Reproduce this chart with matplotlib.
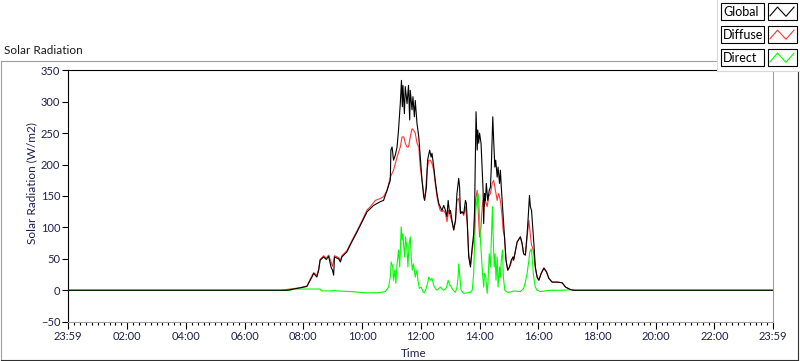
import matplotlib
matplotlib.use("Agg")
import matplotlib.pyplot as plt
from matplotlib.patches import Rectangle
from matplotlib.lines import Line2D
import numpy as np

# ── Style ────────────────────────────────────────────────────────────────────
plt.rcParams.update({
    "font.family": ["Lato", "DejaVu Sans"],
    "font.size": 8,
})

TXT = "#1f1f4d"
GRAY = "#a0a0a0"
C_GLOBAL = "#000000"
C_DIFFUSE = "#ff3535"
C_DIRECT = "#00ff00"

# ── Data (time in hours of day, radiation in W/m2) ───────────────────────────
GLOBAL_T = [
    -0.02, 7.21, 7.45, 7.89, 8.12, 8.29, 8.35, 8.46, 8.52, 8.57, 8.69, 8.78,
    8.86, 8.94, 8.99, 9.03, 9.06, 9.20, 9.26, 9.31, 9.48, 9.65, 9.83, 10.00,
    10.17, 10.39, 10.62, 10.73, 10.85, 10.96, 10.98, 11.02, 11.07, 11.13, 11.19,
    11.24, 11.30, 11.34, 11.37, 11.39, 11.44, 11.47, 11.53, 11.58, 11.62, 11.64,
    11.70, 11.73, 11.78, 11.81, 11.87, 11.93, 11.98, 12.04, 12.10, 12.13, 12.19,
    12.23, 12.30, 12.35, 12.38, 12.44, 12.49, 12.55, 12.61, 12.66, 12.72, 12.78,
    12.84, 12.89, 12.93, 12.98, 13.01, 13.06, 13.12, 13.18, 13.23, 13.29, 13.32,
    13.35, 13.40, 13.46, 13.52, 13.55, 13.58, 13.63, 13.69, 13.71, 13.75, 13.80,
    13.83, 13.86, 13.88, 13.92, 13.94, 13.97, 14.00, 14.05, 14.09, 14.12, 14.14,
    14.17, 14.20, 14.23, 14.28, 14.33, 14.37, 14.40, 14.45, 14.48, 14.52, 14.55,
    14.60, 14.63, 14.68, 14.71, 14.74, 14.79, 14.85, 14.90, 14.96, 15.02, 15.08,
    15.14, 15.16, 15.28, 15.39, 15.45, 15.50, 15.56, 15.62, 15.65, 15.70, 15.73,
    15.77, 15.81, 15.85, 15.90, 15.96, 16.02, 16.10, 16.19, 16.28, 16.36, 16.47,
    16.64, 16.81, 16.93, 17.10, 17.21, 23.98,
]
GLOBAL_V = [
    0, 0, 0, 4, 6, 21, 27, 21, 32, 48, 53, 49,
    54, 37, 32, 24, 53, 50, 45, 53, 61, 77, 93, 109,
    125, 135, 141, 143, 159, 175, 223, 228, 207, 215, 228,
    255, 297, 334, 292, 326, 281, 324, 297, 326, 271, 318,
    287, 308, 276, 302, 265, 244, 212, 175, 148, 143, 164,
    207, 223, 212, 218, 196, 175, 154, 138, 133, 127, 135,
    127, 117, 143, 122, 127, 111, 96, 111, 154, 178, 164,
    122, 125, 122, 143, 138, 111, 53, 37, 48, 69, 90,
    127, 228, 284, 223, 255, 234, 250, 234, 191, 159, 106,
    154, 143, 170, 143, 159, 164, 196, 276, 239, 196, 207,
    180, 196, 170, 191, 164, 127, 85, 48, 32, 37, 48,
    53, 48, 77, 85, 74, 58, 56, 90, 111, 151, 133,
    127, 101, 74, 37, 21, 16, 27, 35, 29, 19, 13,
    13, 12, 5, 1, 0, 0,
]

DIFFUSE_T = [
    -0.02, 7.21, 7.89, 8.12, 8.29, 8.35, 8.46, 8.52, 8.57, 8.69, 8.78, 8.86,
    8.94, 8.99, 9.06, 9.20, 9.26, 9.31, 9.48, 9.65, 9.83, 10.00, 10.17, 10.28,
    10.45, 10.62, 10.73, 10.85, 10.96, 11.07, 11.19, 11.30, 11.36, 11.42, 11.47,
    11.53, 11.58, 11.64, 11.70, 11.75, 11.81, 11.87, 11.93, 11.98, 12.04, 12.10,
    12.15, 12.21, 12.27, 12.32, 12.38, 12.44, 12.49, 12.55, 12.61, 12.66, 12.72,
    12.78, 12.84, 12.89, 12.95, 13.01, 13.06, 13.12, 13.18, 13.23, 13.29, 13.35,
    13.40, 13.46, 13.52, 13.58, 13.63, 13.69, 13.75, 13.80, 13.86, 13.92, 13.97,
    14.00, 14.05, 14.09, 14.12, 14.16, 14.20, 14.26, 14.31, 14.37, 14.43, 14.48,
    14.54, 14.60, 14.65, 14.71, 14.77, 14.80, 14.85, 14.90, 14.96, 15.05, 15.14,
    15.16, 15.28, 15.39, 15.45, 15.50, 15.56, 15.62, 15.68, 15.73, 15.77, 15.81,
    15.85, 15.90, 15.96, 16.02, 16.10, 16.19, 16.28, 16.36, 16.47, 16.64, 16.81,
    16.93, 17.10, 17.21, 23.98,
]
DIFFUSE_V = [
    0, 0, 4, 7, 23, 28, 24, 33, 49, 55, 51, 56,
    45, 38, 55, 52, 47, 55, 63, 79, 95, 111, 128, 133,
    143, 146, 149, 159, 180, 191, 212, 228, 244, 244, 234,
    228, 228, 244, 257, 255, 250, 234, 228, 196, 175, 154,
    149, 191, 207, 207, 202, 191, 170, 149, 135, 127, 125,
    127, 122, 109, 127, 117, 109, 96, 111, 143, 146, 122,
    125, 119, 133, 106, 58, 40, 64, 80, 143, 159, 111,
    85, 101, 133, 143, 133, 143, 133, 149, 154, 170, 175,
    159, 143, 154, 143, 117, 96, 85, 48, 32, 40, 53,
    48, 77, 85, 74, 58, 56, 85, 111, 88, 72, 67,
    56, 35, 21, 16, 27, 36, 30, 19, 13, 13, 12,
    5, 1, 0, 0,
]

DIRECT_T = [
    -0.02, 7.59, 7.62, 8.57, 8.61, 9.02, 9.05, 9.12, 9.60, 10.11, 10.55, 10.79,
    10.90, 10.96, 10.99, 11.04, 11.07, 11.11, 11.15, 11.19, 11.24, 11.28, 11.33,
    11.36, 11.39, 11.42, 11.45, 11.48, 11.53, 11.56, 11.60, 11.64, 11.68, 11.71,
    11.75, 11.81, 11.87, 11.90, 11.95, 12.01, 12.08, 12.12, 12.16, 12.23, 12.27,
    12.32, 12.38, 12.44, 12.49, 12.55, 12.66, 12.78, 12.87, 12.93, 12.98, 13.01,
    13.06, 13.12, 13.18, 13.23, 13.27, 13.29, 13.32, 13.37, 13.46, 13.58, 13.69,
    13.75, 13.80, 13.83, 13.87, 13.92, 13.95, 13.98, 14.03, 14.06, 14.10, 14.14,
    14.17, 14.21, 14.26, 14.29, 14.33, 14.37, 14.40, 14.44, 14.46, 14.50, 14.53,
    14.56, 14.60, 14.63, 14.68, 14.71, 14.74, 14.78, 14.81, 14.86, 14.94, 15.05,
    15.16, 15.39, 15.50, 15.56, 15.62, 15.68, 15.71, 15.76, 15.79, 15.83, 15.87,
    15.90, 15.96, 16.07, 16.41, 16.76, 17.15, 17.27, 23.98,
]
DIRECT_V = [
    0, 0, 2, 2, -1, -1, 0, -1, -2, -4, -4, -2,
    5, 21, 45, 38, 16, 32, 11, 42, 64, 37, 101,
    80, 90, 69, 53, 85, 64, 37, 74, 85, 48, 32,
    42, 21, 32, 16, 3, 5, -3, -4, 0, 11, 21,
    16, 19, 8, 3, 0, 5, 0, 4, 16, 8, 8,
    3, -1, -3, 5, 21, 42, 27, 0, -5, -4, -3,
    0, 27, 74, 127, 149, 154, 138, 80, 58, 27, 5,
    27, 21, -5, 16, 58, 37, 80, 133, 90, 37, 58,
    16, 53, 5, 37, 21, 48, 64, 21, 0, -3, -3,
    -1, -2, 3, 13, 27, 48, 61, 66, 53, 27, 13,
    5, 0, -2, 0, 0, 1, 0, 0,
]

X_START = -1 / 60          # 23:59 of the previous day
X_END = 24 - 1 / 60        # 23:59
X_MAJOR = [X_START, 2, 4, 6, 8, 10, 12, 14, 16, 18, 20, 22, X_END]
X_LABELS = ["23:59", "02:00", "04:00", "06:00", "08:00", "10:00", "12:00",
            "14:00", "16:00", "18:00", "20:00", "22:00", "23:59"]
Y_TICKS = [-50, 0, 50, 100, 150, 200, 250, 300, 350]

SERIES = ["Global", "Diffuse", "Direct"]
COLORS = [C_GLOBAL, C_DIFFUSE, C_DIRECT]

# ── Figure geometry (pixel helpers) ──────────────────────────────────────────
W, H = 800, 361


def fx(px):
    return px / W


def fy(py):
    return 1 - py / H


fig = plt.figure(figsize=(8, 3.61), dpi=100)
fig.patch.set_facecolor("white")
ax = fig.add_axes([fx(68), fy(321.7), (772.7 - 68) / W, (321.7 - 70.3) / H])

ax.plot(DIFFUSE_T, DIFFUSE_V, color=C_DIFFUSE, lw=0.8, zorder=2)
ax.plot(DIRECT_T, DIRECT_V, color=C_DIRECT, lw=0.8, zorder=3)
ax.plot(GLOBAL_T, GLOBAL_V, color=C_GLOBAL, lw=0.8, zorder=4)

ax.set_xlim(X_START, X_END)
ax.set_ylim(-50, 350)
ax.set_xticks(X_MAJOR)
ax.set_xticklabels(X_LABELS)
minor = [m for m in np.arange(0.2, 24, 0.2) if abs(m / 2 - round(m / 2)) > 1e-6]
ax.set_xticks(minor, minor=True)
ax.set_yticks(Y_TICKS)

ax.tick_params(axis="y", which="major", direction="out", length=4, width=0.8,
               color="black", labelcolor=TXT, labelsize=8, pad=1.5)
ax.tick_params(axis="x", which="major", direction="out", length=5, width=0.8,
               color="black", labelcolor=TXT, labelsize=8, pad=1.5)
ax.tick_params(axis="x", which="minor", direction="out", length=2.5, width=0.8,
               color="black")

for side, col in [("left", "black"), ("top", "black"),
                  ("right", GRAY), ("bottom", GRAY)]:
    ax.spines[side].set_color(col)
    ax.spines[side].set_linewidth(0.8)

ax.set_xlabel("Time", color=TXT, fontsize=8.5, va="center")
ax.xaxis.set_label_coords(0.49, -0.1265)
ax.set_ylabel("Solar Radiation (W/m2)", color=TXT, fontsize=8.5, va="center")
ax.yaxis.set_label_coords(-0.0518, 0.55)

# ── Outer frame + title ──────────────────────────────────────────────────────
fig.text(fx(4), fy(51), "Solar Radiation", ha="left", va="center",
         fontsize=8.5, color="#1a1a1a")
fig.add_artist(Line2D([fx(1), fx(1)], [fy(61), fy(359.5)], color=GRAY, lw=0.8))
fig.add_artist(Line2D([fx(1), fx(797.5)], [fy(61), fy(61)], color=GRAY, lw=0.8))
fig.add_artist(Line2D([fx(797.5), fx(797.5)], [fy(61), fy(359.5)],
                      color="#303030", lw=0.8))
fig.add_artist(Line2D([fx(1), fx(797.5)], [fy(359.5), fy(359.5)],
                      color="#303030", lw=0.8))

# ── Legend panel (LabVIEW style) ─────────────────────────────────────────────
panel = Rectangle((fx(717), fy(71)), 1 - fx(717), fy(0) - fy(71),
                  transform=fig.transFigure, facecolor="white",
                  edgecolor="none", zorder=10)
fig.add_artist(panel)
fig.add_artist(Line2D([fx(717), fx(717)], [fy(0), fy(71)], color="#d8d8d8",
                      lw=0.8, zorder=11))
fig.add_artist(Line2D([fx(717), fx(800)], [fy(71), fy(71)], color="#d8d8d8",
                      lw=0.8, zorder=11))

box_h = 16.7
for i, (name, col) in enumerate(zip(SERIES, COLORS)):
    top = 3.3 + i * 23.0
    fig.add_artist(Rectangle((fx(720.7), fy(top + box_h)), fx(764) - fx(720.7),
                             fy(top) - fy(top + box_h), transform=fig.transFigure,
                             facecolor="white", edgecolor="black", lw=0.8,
                             zorder=12))
    fig.add_artist(Rectangle((fx(767.7), fy(top + box_h)), fx(796.7) - fx(767.7),
                             fy(top) - fy(top + box_h), transform=fig.transFigure,
                             facecolor="white", edgecolor="black", lw=0.8,
                             zorder=12))
    fig.text(fx(723), fy(top + box_h / 2), name, ha="left", va="center",
             fontsize=9, color="black", zorder=13)
    zx = [fx(770), fx(777.5), fx(786), fx(794)]
    zy = [fy(top + 12.5), fy(top + 3.8), fy(top + 13), fy(top + 3.8)]
    fig.add_artist(Line2D(zx, zy, color=col, lw=0.8, zorder=13))

fig.savefig("out.png", dpi=100)
